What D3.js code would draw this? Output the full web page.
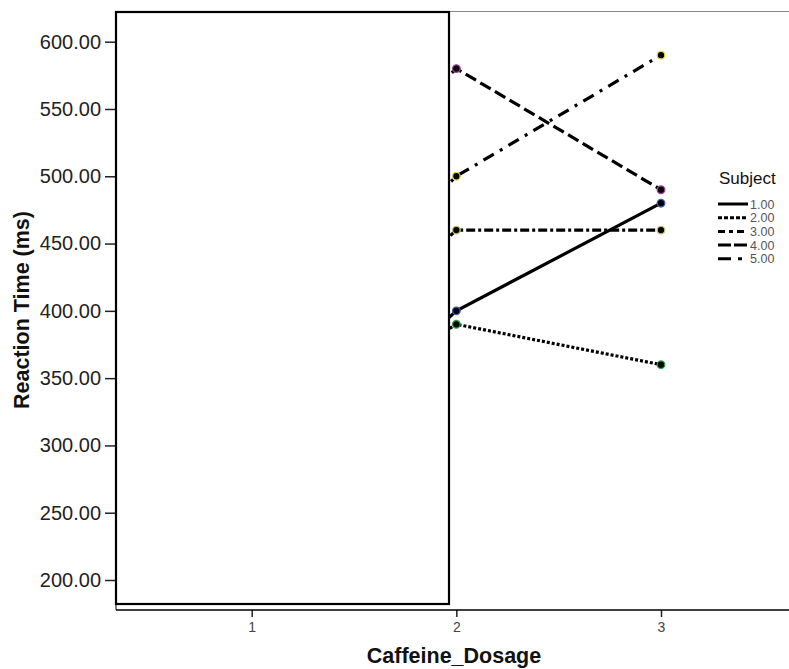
<!DOCTYPE html>
<html>
<head>
<meta charset="utf-8">
<script src="https://cdn.jsdelivr.net/npm/d3@7"></script>
<style>
  body { margin: 0; background: #fff; }
  svg { display: block; font-family: "Liberation Sans", Arial, sans-serif; }
</style>
</head>
<body>
<svg id="chart" width="789" height="669"></svg>
<script>
// Data (x = 1 values sit behind the white box and are estimated)
const dosages = [1, 2, 3];
const subjects = ["1.00", "2.00", "3.00", "4.00", "5.00"];
const subject1 = [260, 400, 480];
const subject2 = [300, 390, 360];
const subject3 = [320, 460, 460];
const subject4 = [440, 580, 490];
const subject5 = [350, 500, 590];
const yTicks = [200, 250, 300, 350, 400, 450, 500, 550, 600];

const series = [subject1, subject2, subject3, subject4, subject5];
const dashes = [null, "3,2", "9,3,3,3", "12,5", "12,7,3,7"];
const legendDashes = [null, "4,2", "7,4,4,4", "13,3", "13,7,4,7"];
const pointColors = ["#3b5bb5", "#2ea043", "#c8c060", "#a0409a", "#e0dc40"];

const svg = d3.select("#chart");
const LEFT = 116, RIGHT = 789, TOP = 11, BOTTOM = 610;

const x = d3.scaleLinear().domain([1, 3]).range([251.7, 661]);
const y = d3.scaleLinear().domain([200, 600]).range([580, 41.7]);

// outer frame
svg.append("line").attr("x1", LEFT).attr("x2", RIGHT).attr("y1", TOP + 0.5).attr("y2", TOP + 0.5)
  .attr("stroke", "#888").attr("stroke-width", 1);
svg.append("line").attr("x1", LEFT).attr("x2", LEFT).attr("y1", TOP).attr("y2", BOTTOM)
  .attr("stroke", "#000").attr("stroke-width", 1);

// y axis
const yAxis = svg.append("g").attr("transform", `translate(${LEFT},0)`)
  .call(d3.axisLeft(y).tickValues(yTicks).tickFormat(d3.format(".2f")).tickSize(11).tickPadding(4))
  .call(ax => ax.select(".domain").remove());
yAxis.selectAll(".tick line").attr("stroke", "#222").attr("stroke-width", 1.5);
yAxis.selectAll(".tick text").attr("font-size", "20px").attr("fill", "#222")
  .attr("font-family", "'Liberation Sans', Arial, sans-serif");

// x axis
const xAxis = svg.append("g").attr("transform", `translate(0,${BOTTOM})`)
  .call(d3.axisBottom(x).tickValues(dosages).tickFormat(d3.format("d")).tickSize(7).tickPadding(5))
  .call(ax => ax.select(".domain").remove());
xAxis.selectAll(".tick line").attr("stroke", "#222").attr("stroke-width", 1.5);
xAxis.selectAll(".tick text").attr("font-size", "14px").attr("fill", "#444")
  .attr("font-family", "'Liberation Sans', Arial, sans-serif");
svg.append("line").attr("x1", LEFT).attr("x2", RIGHT).attr("y1", BOTTOM).attr("y2", BOTTOM)
  .attr("stroke", "#000").attr("stroke-width", 1.3);

// axis titles
svg.append("text").attr("x", 454).attr("y", 663).attr("text-anchor", "middle")
  .attr("font-size", "21.5px").attr("font-weight", "bold").attr("fill", "#111").text("Caffeine_Dosage");
svg.append("text").attr("transform", "translate(29,310) rotate(-90)").attr("text-anchor", "middle")
  .attr("font-size", "21.5px").attr("font-weight", "bold").attr("fill", "#111").text("Reaction Time (ms)");

// lines and points
const line = d3.line().x((d, i) => x(dosages[i])).y(d => y(d));
series.forEach((vals, s) => {
  svg.append("path").datum(vals).attr("d", line)
    .attr("fill", "none").attr("stroke", "#000").attr("stroke-width", 3.2)
    .attr("stroke-dasharray", dashes[s]);
});
series.forEach((vals, s) => {
  vals.forEach((v, i) => {
    svg.append("circle").attr("cx", x(dosages[i])).attr("cy", y(v)).attr("r", 3.8)
      .attr("fill", "#000").attr("stroke", pointColors[s]).attr("stroke-width", 1.3);
  });
});

// white box covering the left part
svg.append("rect").attr("x", LEFT).attr("y", 12).attr("width", 449 - LEFT).attr("height", 604 - 12)
  .attr("fill", "#fff").attr("stroke", "#000").attr("stroke-width", 2.2);

// legend
const leg = svg.append("g").attr("transform", "translate(718,0)");
leg.append("text").attr("x", 1).attr("y", 184).attr("font-size", "17px").attr("fill", "#111").text("Subject");
subjects.forEach((name, i) => {
  const yy = 204 + i * 13.7;
  leg.append("line").attr("x1", 0).attr("x2", 30).attr("y1", yy).attr("y2", yy)
    .attr("stroke", "#000").attr("stroke-width", 3).attr("stroke-dasharray", legendDashes[i]);
  leg.append("text").attr("x", 32).attr("y", yy + 4.5).attr("font-size", "12.5px").attr("fill", "#555").text(name);
});
</script>
</body>
</html>
